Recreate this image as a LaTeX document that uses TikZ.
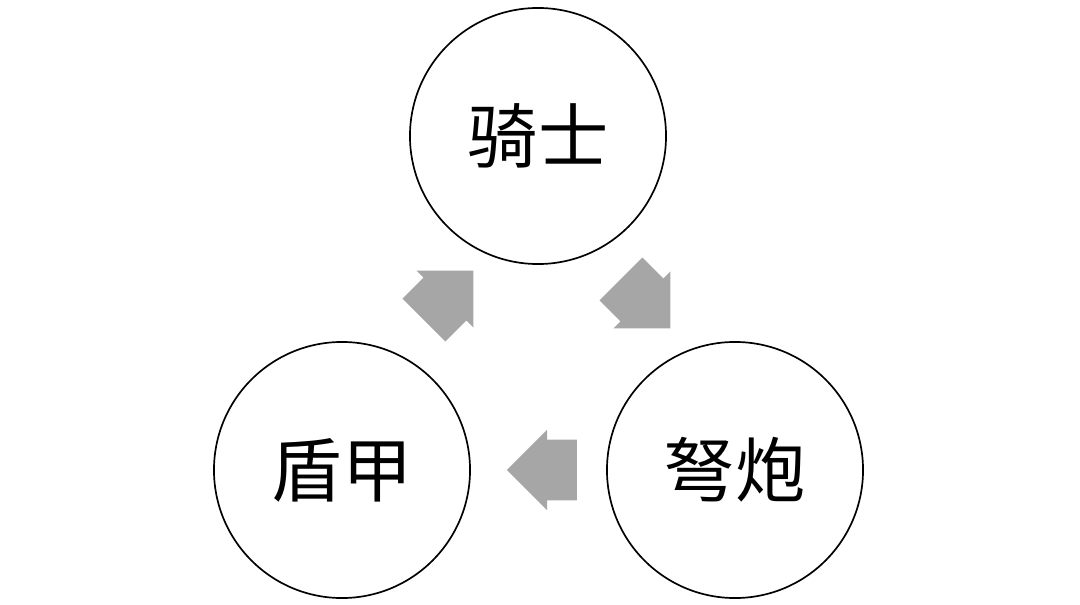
\documentclass[tikz,border=0pt]{standalone}
\usepackage{fontspec}
\setmainfont{Noto Sans CJK SC}
\usetikzlibrary{shapes.arrows}
\tikzset{
  unit/.style={draw=black, line width=1.2pt, circle, minimum size=6.4cm, inner sep=0pt, font=\fontsize{50}{54}\selectfont},
  turn/.style={single arrow, fill=black!35, draw=none, minimum height=1.75cm,
    single arrow head extend=0.25cm, single arrow head indent=0cm, inner xsep=0pt, inner ysep=0.75cm}
}
\begin{document}
\begin{tikzpicture}[x=0.025cm,y=-0.025cm]
		\useasboundingbox (0,0) rectangle (1080,605);
		\node[unit] (knight) at (538,136) {骑士};
		\node[unit] (shield) at (342,470) {盾甲};
		\node[unit] (bow) at (735,470) {弩炮};
		\node[turn, rotate=45] (ks) at (438,306) {};
		\node[turn, rotate=-45] (kb) at (635,293) {};
		\node[turn, rotate=180] (bs) at (557,470) {};
	\end{tikzpicture}
\end{document}
